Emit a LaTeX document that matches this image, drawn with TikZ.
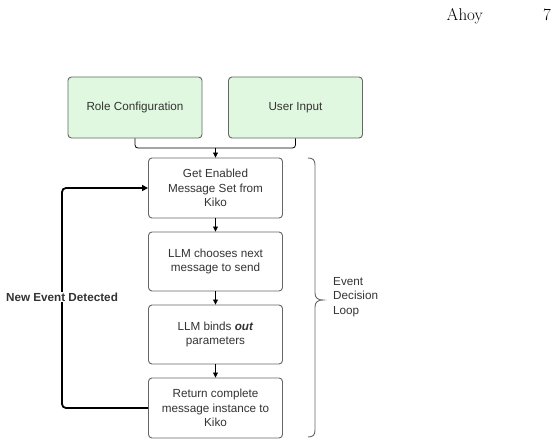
\documentclass[tikz,border=0pt]{standalone}
\usepackage{fontspec}
\newfontfamily\diag{Liberation Sans}
\usetikzlibrary{arrows.meta}
\definecolor{boxline}{HTML}{666666}
\definecolor{boxtext}{HTML}{333333}
\definecolor{greenfill}{HTML}{E0F8E0}
\tikzset{
  box/.style={draw=boxline, line width=0.9pt, rounded corners=3.5pt, fill=white,
    minimum width=134pt, minimum height=60pt, inner sep=0pt,
    align=center, text=boxtext, font=\diag\fontsize{11.7}{14.5}\selectfont},
  greenbox/.style={box, fill=greenfill, minimum height=61pt},
  arr/.style={line width=0.8pt, -{Triangle[length=5pt,width=5pt]}},
  joinline/.style={line width=0.8pt, rounded corners=3pt},
  loopline/.style={line width=1.8pt, rounded corners=4pt, -{Triangle[length=6pt,width=6pt]}},
  header/.style={font=\fontsize{17}{20}\selectfont, inner sep=0pt}
}
\begin{document}
\begin{tikzpicture}[x=1pt,y=-1pt]
\useasboundingbox (0,0) rectangle (555,445);
% header
\node[header, anchor=base east] (ahoy) at (483,20) {Ahoy};
\node[header, anchor=base east] (pg) at (551,20) {7};
% boxes
\node[greenbox] (role) at (135,107.5) {Role Configuration};
\node[greenbox] (ui) at (295.5,107.5) {User Input};
\node[box] (get) at (215.5,188) {Get Enabled\\Message Set from\\Kiko};
\node[box, minimum height=59pt] (choose) at (215.5,261.5) {LLM chooses next\\message to send};
\node[box, minimum height=59pt] (bind) at (215.5,334.5) {LLM binds \textbf{\textit{out}}\\parameters};
\node[box] (ret) at (215.5,408) {Return complete\\message instance to\\Kiko};
% join of inputs
\coordinate (j) at (215.5,148);
\draw[joinline] (role.south) -- (role.south |- j) -- (ui.south |- j) -- (ui.south);
\draw[arr] (j) -- (get.north);
% chain
\draw[arr] (get.south) -- (choose.north);
\draw[arr] (choose.south) -- (bind.north);
\draw[arr] (bind.south) -- (ret.north);
% loop back
\coordinate (lb) at (62,408);
\draw[loopline] (ret.west) -- (lb) |- (get.west);
\node[fill=white, inner sep=1pt, text=boxtext, font=\diag\bfseries\fontsize{11.7}{14}\selectfont] (nev) at (62,297) {New Event Detected};
% brace
\draw[boxline, line width=0.9pt]
  (308,158) .. controls (313,158) and (315,160) .. (315,165)
  -- (315,293) .. controls (315,298) and (318,300) .. (323,300)
  .. controls (318,300) and (315,302) .. (315,307)
  -- (315,430) .. controls (315,435) and (313,437) .. (308,437);
\node[anchor=west, align=left, text=boxtext, inner sep=0pt,
  font=\diag\fontsize{11.7}{14.5}\selectfont] (edl) at (333,297) {Event\\Decision\\Loop};
\end{tikzpicture}
\end{document}
